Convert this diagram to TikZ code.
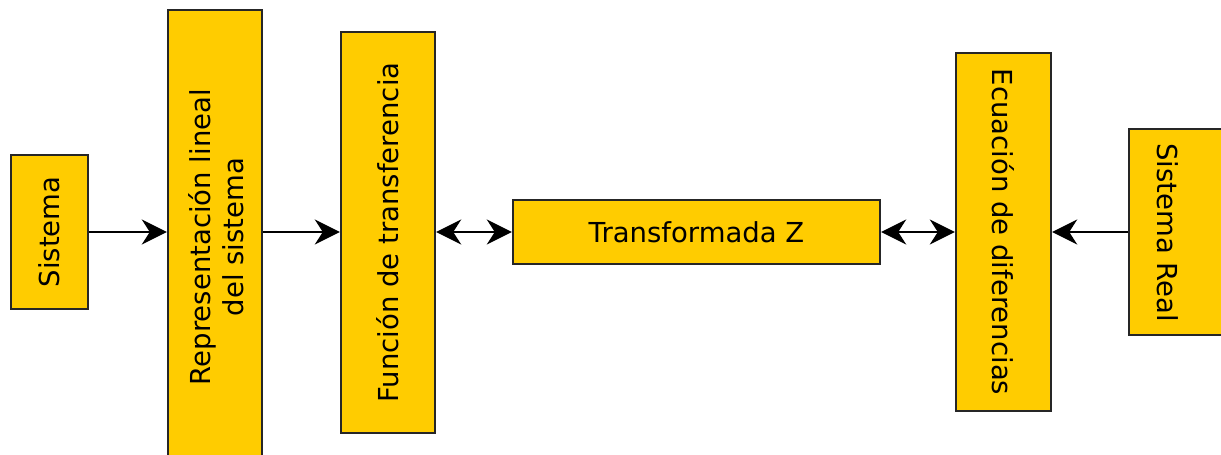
\documentclass[tikz,border=0pt]{standalone}
\usepackage{fontspec}
\setmainfont{DejaVu Sans}
\usetikzlibrary{arrows.meta}
\definecolor{amarillo}{RGB}{255,204,0}
\tikzset{
  caja/.style={draw=black!85, line width=2.4pt, fill=amarillo, inner sep=0pt},
  txt/.style={font=\fontsize{27.5}{33}\selectfont, align=center, inner sep=0pt},
  flecha/.style={line width=2pt, -{Stealth[length=25pt,width=25pt,inset=8pt]}},
  doble/.style={line width=2pt, {Stealth[length=25pt,width=25pt,inset=8pt]}-{Stealth[length=25pt,width=25pt,inset=8pt]}}
}
\begin{document}
\begin{tikzpicture}[x=1pt, y=-1pt]
 \useasboundingbox (0,0) rectangle (1221,455);
 % cajas
 \node[caja, minimum width=77pt, minimum height=154pt] (sis) at (49.5,232) {};
 \node[caja, minimum width=94pt, minimum height=460pt] (rep) at (215,240) {};
 \node[caja, minimum width=94pt, minimum height=401pt] (fun) at (388,232.5) {};
 \node[caja, minimum width=367pt, minimum height=64pt] (tz) at (696.5,232) {};
 \node[caja, minimum width=95pt, minimum height=358pt] (ecu) at (1003.5,232) {};
 \node[caja, minimum width=100pt, minimum height=206pt] (real) at (1179,232) {};
 % textos
 \node[txt, rotate=90] (sis-t) at (sis) {Sistema};
 \node[txt, rotate=90] (rep-t) at (216,237) {Representación lineal\\del sistema};
 \node[txt, rotate=90] (fun-t) at (fun) {Función de transferencia};
 \node[txt] (tz-t) at (tz) {Transformada Z};
 \node[txt, rotate=-90] (ecu-t) at (ecu) {Ecuación de diferencias};
 \node[txt, rotate=-90] (real-t) at (1168,232.5) {Sistema Real};
 % conectores
 \draw[flecha] (sis.east) -- (sis.east -| rep.west);
 \draw[flecha] (rep.east |- sis.east) -- (fun.west |- sis.east);
 \draw[doble] (fun.east |- tz.west) -- (tz.west);
 \draw[doble] (tz.east) -- (tz.east -| ecu.west);
 \draw[flecha] (real.west) -- (real.west -| ecu.east);
\end{tikzpicture}
\end{document}
